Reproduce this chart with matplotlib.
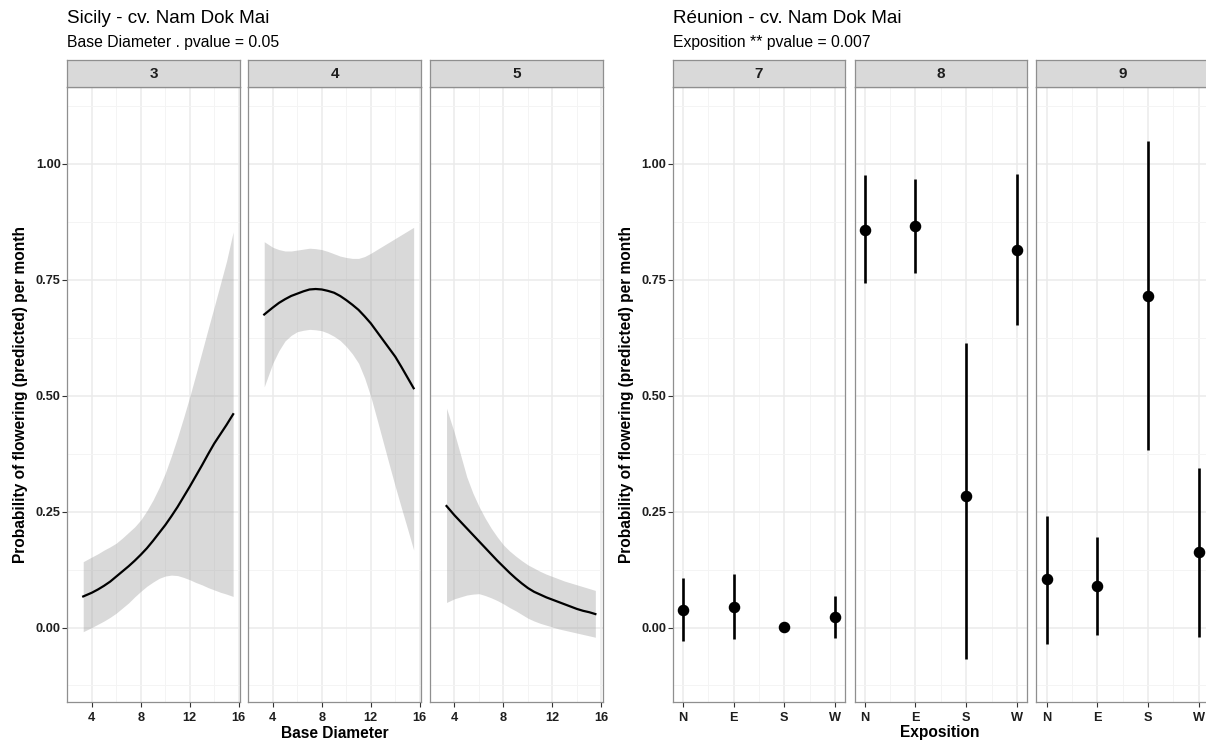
import numpy as np
import matplotlib
matplotlib.use("Agg")
import matplotlib.pyplot as plt

plt.rcParams['font.family'] = ['Liberation Sans', 'DejaVu Sans']

# Sicily: predicted flowering probability vs base diameter, one facet per month
months_sicily = ['3', '4', '5']
diam = {
    '3': [3.3, 4, 4.5, 5, 5.5, 6, 6.5, 7, 7.5, 8, 8.5, 9, 9.5, 10, 10.5, 11, 11.5, 12,
          12.5, 13, 13.5, 14, 14.5, 15, 15.54],
    '4': [3.3, 4, 4.5, 5, 5.5, 6, 6.5, 7, 7.5, 8, 8.5, 9, 9.5, 10, 10.5, 11, 11.5, 12,
          12.5, 13, 13.5, 14, 14.5, 15, 15.5],
    '5': [3.35, 4, 4.5, 5, 5.5, 6, 6.5, 7, 7.5, 8, 8.5, 9, 9.5, 10, 10.5, 11, 11.5, 12,
          12.5, 13, 13.5, 14, 14.5, 15, 15.5],
}
fit = {
    '3': [0.067, 0.075, 0.082, 0.090, 0.099, 0.110, 0.121, 0.132, 0.144, 0.157, 0.171, 0.187,
          0.204, 0.221, 0.240, 0.260, 0.282, 0.304, 0.327, 0.350, 0.374, 0.397, 0.417, 0.437, 0.460],
    '4': [0.675, 0.690, 0.700, 0.708, 0.715, 0.720, 0.725, 0.729, 0.730, 0.729, 0.726, 0.722,
          0.715, 0.706, 0.696, 0.685, 0.671, 0.656, 0.638, 0.620, 0.602, 0.584, 0.562, 0.539, 0.516],
    '5': [0.262, 0.242, 0.228, 0.214, 0.200, 0.186, 0.172, 0.158, 0.144, 0.131, 0.118, 0.106,
          0.095, 0.085, 0.077, 0.071, 0.065, 0.060, 0.055, 0.050, 0.045, 0.040, 0.036, 0.033, 0.029],
}
lower = {
    '3': [-0.009, 0.000, 0.007, 0.014, 0.022, 0.031, 0.042, 0.053, 0.066, 0.078, 0.089, 0.098,
          0.106, 0.111, 0.113, 0.112, 0.108, 0.103, 0.097, 0.092, 0.086, 0.081, 0.076, 0.072, 0.067],
    '4': [0.519, 0.570, 0.597, 0.618, 0.630, 0.638, 0.641, 0.643, 0.642, 0.640, 0.635, 0.628,
          0.619, 0.606, 0.590, 0.570, 0.538, 0.498, 0.450, 0.401, 0.352, 0.304, 0.258, 0.213, 0.167],
    '5': [0.054, 0.062, 0.066, 0.070, 0.072, 0.073, 0.069, 0.064, 0.058, 0.051, 0.043, 0.036,
          0.028, 0.020, 0.014, 0.009, 0.005, 0.001, -0.003, -0.006, -0.009, -0.012, -0.015, -0.018, -0.021],
}
upper = {
    '3': [0.142, 0.152, 0.159, 0.167, 0.174, 0.182, 0.193, 0.205, 0.217, 0.232, 0.252, 0.275,
          0.302, 0.333, 0.370, 0.410, 0.453, 0.498, 0.546, 0.595, 0.644, 0.692, 0.741, 0.790, 0.853],
    '4': [0.832, 0.820, 0.815, 0.812, 0.812, 0.814, 0.816, 0.818, 0.817, 0.815, 0.811, 0.806,
          0.801, 0.798, 0.796, 0.796, 0.800, 0.807, 0.815, 0.823, 0.831, 0.839, 0.847, 0.855, 0.863],
    '5': [0.473, 0.419, 0.372, 0.325, 0.290, 0.261, 0.236, 0.214, 0.195, 0.178, 0.165, 0.154,
          0.144, 0.135, 0.128, 0.121, 0.115, 0.110, 0.105, 0.100, 0.096, 0.092, 0.088, 0.084, 0.080],
}

# Reunion: predicted probability by exposition, one facet per month
months_reunion = ['7', '8', '9']
expo = ['N', 'E', 'S', 'W']
prob = {
    '7': [0.038, 0.045, 0.002, 0.022],
    '8': [0.858, 0.866, 0.284, 0.815],
    '9': [0.104, 0.089, 0.716, 0.163],
}
prob_lo = {
    '7': [-0.030, -0.025, 0.002, -0.022],
    '8': [0.742, 0.764, -0.067, 0.652],
    '9': [-0.035, -0.017, 0.382, -0.020],
}
prob_hi = {
    '7': [0.106, 0.115, 0.002, 0.067],
    '8': [0.975, 0.967, 0.614, 0.977],
    '9': [0.240, 0.196, 1.050, 0.345],
}

W, H = 1206, 742
fig = plt.figure(figsize=(W / 100, H / 100), dpi=100)

def box(l, t, r, b):
    return [l / W, 1 - b / H, (r - l) / W, (b - t) / H]

PANEL_T, PANEL_B, STRIP_T = 87.3, 701.7, 59.5
BORDER = '#8f8f8f'
TXT = '#1e1e1e'

def style_panel(ax, show_y):
    ax.set_ylim(-0.16, 1.165)
    ax.set_yticks([0, 0.25, 0.5, 0.75, 1.0])
    ax.set_yticks([-0.125, 0.125, 0.375, 0.625, 0.875, 1.125], minor=True)
    ax.grid(which='major', color='#ebebeb', lw=1.1)
    ax.grid(which='minor', color='#f4f4f4', lw=0.7)
    ax.set_axisbelow(True)
    for s in ax.spines.values():
        s.set_color(BORDER)
        s.set_linewidth(0.9)
    ax.tick_params(which='major', length=3.3, width=0.8, color='#333333',
                   labelsize=9.2, labelcolor=TXT)
    ax.tick_params(axis='y', pad=1.5)
    ax.tick_params(axis='x', pad=4)
    ax.tick_params(which='minor', length=0)
    for lab in ax.get_xticklabels() + ax.get_yticklabels():
        lab.set_fontweight('bold')
    if show_y:
        ax.set_yticklabels(['0.00', '0.25', '0.50', '0.75', '1.00'], fontweight='bold')
    else:
        ax.tick_params(axis='y', which='both', left=False, labelleft=False)

def strip(l, r, text):
    sax = fig.add_axes(box(l, STRIP_T, r, PANEL_T))
    sax.set_facecolor('#d9d9d9')
    sax.set_xticks([])
    sax.set_yticks([])
    for s in sax.spines.values():
        s.set_color(BORDER)
        s.set_linewidth(0.9)
    sax.text(0.5, 0.47, text, ha='center', va='center', fontsize=11,
             fontweight='bold', color=TXT, transform=sax.transAxes)

# left plot
lefts = [67.3, 248.3, 430.0]
pw = 172.7
for i, m in enumerate(months_sicily):
    l = lefts[i]
    ax = fig.add_axes(box(l, PANEL_T, l + pw, PANEL_B))
    ax.fill_between(diam[m], lower[m], upper[m], color='#999999', alpha=0.37, lw=0)
    ax.plot(diam[m], fit[m], color='black', lw=1.6, solid_joinstyle='round')
    ax.set_xlim(2.76, 16.1)
    ax.set_xticks([4, 8, 12, 16])
    ax.set_xticks([2, 6, 10, 14], minor=True)
    ax.set_xticklabels(['4', '8', '12', '16'])
    style_panel(ax, i == 0)
    strip(l, l + pw, m)

# right plot
rlefts = [672.7, 854.5, 1036.4]
rw = 172.6
xpos = np.arange(1, len(expo) + 1)
for i, m in enumerate(months_reunion):
    l = rlefts[i]
    ax = fig.add_axes(box(l, PANEL_T, l + rw, PANEL_B))
    ax.vlines(xpos, prob_lo[m], prob_hi[m], color='black', lw=1.9)
    ax.plot(xpos, prob[m], 'o', color='black', ms=7.3)
    ax.set_xlim(0.8, 4.2)
    ax.set_xticks(xpos)
    ax.set_xticks([1.5, 2.5, 3.5], minor=True)
    ax.set_xticklabels(expo)
    style_panel(ax, i == 0)
    strip(l, l + rw, m)

# titles and axis labels
fig.text(67.3 / W, 1 - 22.7 / H, 'Sicily - cv. Nam Dok Mai', fontsize=13.6, va='baseline', color='black')
fig.text(67.3 / W, 1 - 46.7 / H, 'Base Diameter . pvalue = 0.05', fontsize=11.3, va='baseline', color='black')
fig.text(672.7 / W, 1 - 22.7 / H, 'Réunion - cv. Nam Dok Mai', fontsize=13.6, va='baseline', color='black')
fig.text(672.7 / W, 1 - 46.7 / H, 'Exposition ** pvalue = 0.007', fontsize=11.3, va='baseline', color='black')

ylab = 'Probability of flowering (predicted) per month'
fig.text(21 / W, 1 - 394.5 / H, ylab, rotation=90, ha='center', va='center',
         fontsize=11.2, fontweight='bold')
fig.text(627 / W, 1 - 394.5 / H, ylab, rotation=90, ha='center', va='center',
         fontsize=11.2, fontweight='bold')
fig.text(335 / W, 1 - 733 / H, 'Base Diameter', ha='center', va='center',
         fontsize=11.2, fontweight='bold')
fig.text(940 / W, 1 - 733 / H, 'Exposition', ha='center', va='center',
         fontsize=11.2, fontweight='bold')

fig.savefig('out.png', dpi=100)
